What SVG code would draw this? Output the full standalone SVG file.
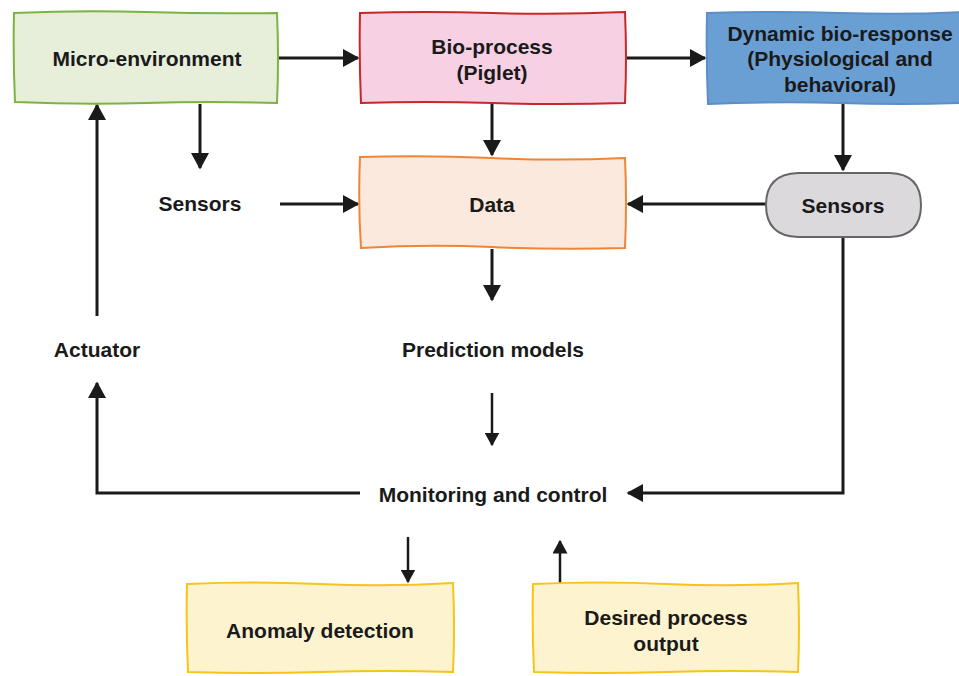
<svg xmlns="http://www.w3.org/2000/svg" width="959" height="676" viewBox="0 0 959 676">
<defs>
<marker id="ah" markerWidth="6" markerHeight="6" refX="5" refY="3" orient="auto" markerUnits="strokeWidth"><path d="M0,0 L5.5,3 L0,6 Z" fill="#1a1a1a"/></marker>
</defs>
<style>
text{font-family:"Liberation Sans",Arial,sans-serif;font-weight:bold;font-size:21px;fill:#1a1a1a;text-anchor:middle;dominant-baseline:central}
.c{fill:none;stroke:#1a1a1a;stroke-width:3}
.t{stroke-width:2.5}
.box{stroke-width:2}
</style>
<rect width="959" height="676" fill="#ffffff"/>
<g id="connectors">
<path class="c" d="M279,58 H358" marker-end="url(#ah)"/>
<path class="c" d="M627,58 H705" marker-end="url(#ah)"/>
<path class="c" d="M200,104 V168" marker-end="url(#ah)"/>
<path class="c" d="M492,104 V155" marker-end="url(#ah)"/>
<path class="c" d="M843,104 V170" marker-end="url(#ah)"/>
<path class="c" d="M280,204 H358" marker-end="url(#ah)"/>
<path class="c" d="M766,204 H628" marker-end="url(#ah)"/>
<path class="c" d="M492,249 V300" marker-end="url(#ah)"/>
<path class="c t" d="M492,393 V445" marker-end="url(#ah)"/>
<path class="c" d="M843,238 V493 H628" marker-end="url(#ah)"/>
<path class="c" d="M360,493 H97 V383" marker-end="url(#ah)"/>
<path class="c" d="M97,316 V105" marker-end="url(#ah)"/>
<path class="c t" d="M408,537 V582" marker-end="url(#ah)"/>
<path class="c t" d="M560,583 V541" marker-end="url(#ah)"/>
</g>
<g id="micro-environment">
<path class="box" d="M14,13 Q80,10 146,12 T277,13 Q279,58 277,103 Q210,101 146,103 T15,102 Q13,58 14,13 Z" fill="#e7efdb" stroke="#7cb342"/>
<text x="147" y="58">Micro-environment</text>
</g>
<g id="bio-process">
<path class="box" d="M360,13 Q426,11 492,13 T625,12 Q627,58 625,103 Q558,105 492,103 T361,103 Q359,58 360,13 Z" fill="#f8d0e3" stroke="#c62828"/>
<text x="492" y="46">Bio-process</text>
<text x="492" y="72">(Piglet)</text>
</g>
<g id="dynamic-bio-response">
<path class="box" d="M707,13 Q775,11 840,13 T962,12 L962,103 Q900,105 840,103 T708,104 Q706,58 707,13 Z" fill="#6a9fd4" stroke="#5b8fc6"/>
<text x="840" y="33">Dynamic bio-response</text>
<text x="840" y="58">(Physiological and</text>
<text x="840" y="84">behavioral)</text>
</g>
<g id="sensors-left">
<text x="200" y="203">Sensors</text>
</g>
<g id="data">
<path class="box" d="M360,157 Q426,155 492,158 T625,158 Q627,203 625,248 Q558,250 492,247 T361,248 Q358,203 360,157 Z" fill="#fbe9dd" stroke="#ef8535"/>
<text x="492" y="204">Data</text>
</g>
<g id="sensors-right">
<path d="M798,173 H890 Q921,174 921,205 Q921,236 890,237 H798 Q766,236 766,205 Q766,174 798,173 Z" fill="#dbd9db" stroke="#666666" stroke-width="2"/>
<text x="843" y="205">Sensors</text>
</g>
<g id="actuator">
<text x="97" y="349">Actuator</text>
</g>
<g id="prediction-models">
<text x="493" y="349">Prediction models</text>
</g>
<g id="monitoring-and-control">
<text x="493" y="494">Monitoring and control</text>
</g>
<g id="anomaly-detection">
<path class="box" d="M187,584 Q253,581 320,584 T453,583 Q455,628 453,672 Q386,670 320,672 T188,672 Q186,628 187,584 Z" fill="#fdf3cf" stroke="#f5c518"/>
<text x="320" y="630">Anomaly detection</text>
</g>
<g id="desired-process-output">
<path class="box" d="M533,584 Q600,581 666,584 T798,583 Q800,628 798,672 Q732,670 666,672 T534,672 Q532,628 533,584 Z" fill="#fdf3cf" stroke="#f5c518"/>
<text x="666" y="617">Desired process</text>
<text x="666" y="643">output</text>
</g>
</svg>
